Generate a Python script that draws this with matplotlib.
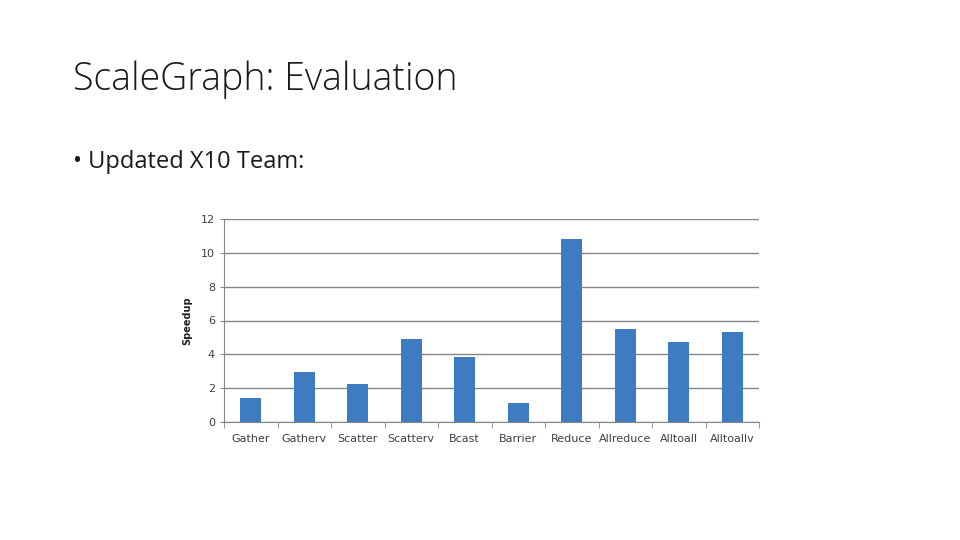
import matplotlib.pyplot as plt

ops = ['Gather', 'Gatherv', 'Scatter', 'Scatterv', 'Bcast',
       'Barrier', 'Reduce', 'Allreduce', 'Alltoall', 'Alltoallv']
speedup = [1.42, 2.96, 2.27, 4.91, 3.86, 1.14, 10.82, 5.48, 4.73, 5.34]
yticks = [0, 2, 4, 6, 8, 10, 12]

fig = plt.figure(figsize=(9.6, 5.4), dpi=100)
fig.patch.set_facecolor('white')

fig.text(73/960, 1 - 80/540, 'ScaleGraph: Evaluation', fontsize=27,
         family='Open Sans', weight='light', color='#1a1a1a', va='center', ha='left')
fig.text(73/960, 1 - 162/540, '• Updated X10 Team:', fontsize=17,
         family='Open Sans', color='#1a1a1a', va='center', ha='left')

ax = fig.add_axes([224/960, 1 - 422/540, 535/960, 203/540])
x = range(len(ops))
ax.bar(x, speedup, width=0.4, color='#3d7cc0', zorder=3)
ax.set_xlim(-0.5, len(ops) - 0.5)
ax.set_ylim(0, 12)
ax.set_yticks(yticks)
ax.set_xticks(list(x))
ax.set_xticklabels(ops, fontsize=8, color='#404040')
ax.tick_params(axis='x', length=0, pad=9)
ax.set_xticks([i + 0.5 for i in range(-1, len(ops))], minor=True)
ax.tick_params(axis='x', which='minor', length=4, color='#868686')
ax.tick_params(axis='y', length=3, color='#868686', labelsize=8, labelcolor='#404040')
ax.grid(axis='y', color='#868686', linewidth=1, zorder=0)
for s in ['top', 'right']:
    ax.spines[s].set_visible(False)
for s in ['left', 'bottom']:
    ax.spines[s].set_color('#868686')
ax.set_ylabel('Speedup', fontsize=7, fontweight='bold', color='#202020', labelpad=6)

fig.savefig('out.png', dpi=100)
